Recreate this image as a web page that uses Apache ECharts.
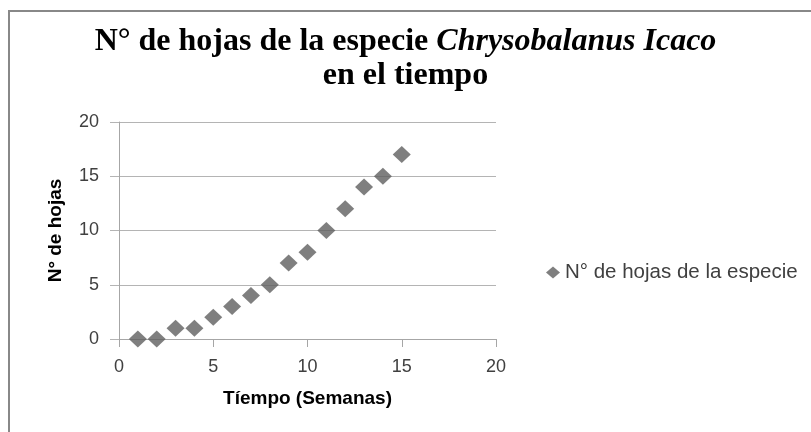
<!DOCTYPE html>
<html>
<head>
<meta charset="utf-8">
<script src="https://cdn.jsdelivr.net/npm/echarts@6/dist/echarts.min.js"></script>
<style>
  html, body { margin: 0; padding: 0; background: #fff; }
  #chart { width: 811px; height: 432px; }
</style>
</head>
<body>
<div id="chart"></div>
<script>
// semanas y numero de hojas
const semanas = [1, 2, 3, 4, 5, 6, 7, 8, 9, 10, 11, 12, 13, 14, 15];
const hojas = [0, 0, 1, 1, 2, 3, 4, 5, 7, 8, 10, 12, 14, 15, 17];
const serieNombre = "N° de hojas de la especie";

const sans = "Liberation Sans";
const serif = "Liberation Serif";
const gris = "#5f5f5f";

const chart = echarts.init(document.getElementById("chart"));
chart.setOption({
  animation: false,
  backgroundColor: "#fff",
  graphic: [
    {
      // marco del grafico (se sale por derecha y abajo)
      type: "rect",
      shape: { x: 9, y: 11, width: 900, height: 500 },
      style: { fill: "none", stroke: "#888", lineWidth: 2 },
      silent: true,
    },
  ],
  title: {
    text: "N° de hojas de la especie {i|Chrysobalanus Icaco}\nen el tiempo",
    left: "center",
    top: 20,
    textStyle: {
      fontFamily: serif,
      fontWeight: "bold",
      fontSize: 32,
      lineHeight: 34,
      color: "#000",
      rich: {
        i: {
          fontFamily: serif,
          fontWeight: "bold",
          fontStyle: "italic",
          fontSize: 32,
          lineHeight: 34,
          color: "#000",
        },
      },
    },
  },
  legend: {
    orient: "vertical",
    left: 541,
    top: 257,
    icon: "diamond",
    itemWidth: 14,
    itemHeight: 12,
    itemGap: 5,
    textStyle: { fontFamily: sans, fontSize: 20.5, color: "#404040" },
    data: [serieNombre],
  },
  grid: { left: 119, right: 315, top: 122, bottom: 93, containLabel: false },
  xAxis: {
    type: "value",
    min: 0,
    max: 20,
    interval: 5,
    name: "Tíempo (Semanas)",
    nameLocation: "middle",
    nameGap: 50,
    nameTextStyle: { fontFamily: sans, fontWeight: "bold", fontSize: 19, color: "#000" },
    axisLine: { onZero: false, lineStyle: { color: "#a6a6a6", width: 1 } },
    axisTick: { show: true, length: 8, lineStyle: { color: "#a6a6a6" } },
    axisLabel: { fontFamily: sans, fontSize: 18, color: "#404040", margin: 19 },
    splitLine: { show: false },
  },
  yAxis: {
    type: "value",
    min: 0,
    max: 20,
    interval: 5,
    name: "N° de hojas",
    nameLocation: "middle",
    nameGap: 54,
    nameTextStyle: { fontFamily: sans, fontWeight: "bold", fontSize: 19, color: "#000" },
    axisLine: { show: true, lineStyle: { color: "#a6a6a6", width: 1 } },
    axisTick: { show: true, length: 9, lineStyle: { color: "#b4b4b4" } },
    axisLabel: { fontFamily: sans, fontSize: 18, color: "#404040", margin: 20 },
    splitLine: { show: true, lineStyle: { color: "#b4b4b4", width: 1 } },
  },
  series: [
    {
      name: serieNombre,
      type: "scatter",
      symbol: "diamond",
      symbolSize: [18, 17],
      itemStyle: { color: gris },
      data: semanas.map((s, i) => [s, hojas[i]]),
    },
  ],
});
</script>
</body>
</html>
